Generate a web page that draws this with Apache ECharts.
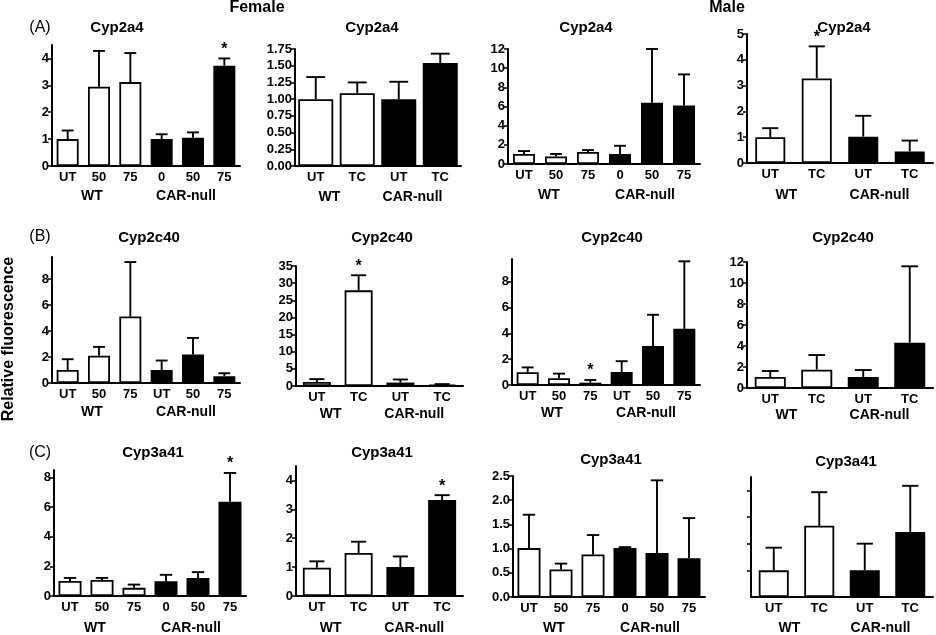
<!DOCTYPE html>
<html><head><meta charset="utf-8">
<script src="https://cdn.jsdelivr.net/npm/echarts@6/dist/echarts.min.js"></script>
<style>html,body{margin:0;padding:0;background:#fff}#c{width:936px;height:635px}</style>
</head><body><div id="c"></div>
<script>
const FONT = '"Liberation Sans", Arial, Helvetica, sans-serif';

// ---- text / categories ----
const catDoseA = ['UT','50','75','0','50','75'];
const catDoseB = ['UT','50','75','UT','50','75'];
const catTC = ['UT','TC','UT','TC'];
const groups = ['WT','CAR-null'];
const genes = ['Cyp2a4','Cyp2c40','Cyp3a41'];
const sexLabels = ['Female','Male'];
const rowLabels = ['(A)','(B)','(C)'];
const yTitle = 'Relative fluorescence';

// ---- data: mean, SEM, significance ----
const fDose2a4Mean = [1.0, 2.95, 3.12, 1.0, 1.05, 3.73];
const fDose2a4Sem  = [0.32, 1.33, 1.08, 0.18, 0.20, 0.27];
const fDose2a4Sig  = [0, 0, 0, 0, 0, 1];
const fTC2a4Mean = [1.0, 1.09, 1.0, 1.54];
const fTC2a4Sem  = [0.33, 0.16, 0.26, 0.14];
const fTC2a4Sig  = [0, 0, 0, 0];
const mDose2a4Mean = [1.05, 0.78, 1.25, 1.05, 6.4, 6.1];
const mDose2a4Sem  = [0.30, 0.27, 0.20, 0.85, 5.6, 3.25];
const mDose2a4Sig  = [0, 0, 0, 0, 0, 0];
const mTC2a4Mean = [1.0, 3.28, 1.02, 0.45];
const mTC2a4Sem  = [0.35, 1.24, 0.81, 0.42];
const mTC2a4Sig  = [0, 1, 0, 0];

const fDose2c40Mean = [1.0, 2.1, 5.12, 1.0, 2.19, 0.52];
const fDose2c40Sem  = [0.83, 0.68, 4.19, 0.73, 1.28, 0.23];
const fDose2c40Sig  = [0, 0, 0, 0, 0, 0];
const fTC2c40Mean = [1.2, 27.9, 1.0, 0.4];
const fTC2c40Sem  = [0.8, 4.4, 0.9, 0.15];
const fTC2c40Sig  = [0, 1, 0, 0];
const mDose2c40Mean = [0.98, 0.52, 0.18, 1.0, 3.02, 4.34];
const mDose2c40Sem  = [0.38, 0.36, 0.21, 0.84, 2.41, 5.22];
const mDose2c40Sig  = [0, 0, 1, 0, 0, 0];
const mTC2c40Mean = [1.05, 1.75, 1.05, 4.32];
const mTC2c40Sem  = [0.57, 1.39, 0.66, 7.27];
const mTC2c40Sig  = [0, 0, 0, 0];

const fDose3a41Mean = [1.01, 1.08, 0.55, 1.0, 1.21, 6.36];
const fDose3a41Sem  = [0.21, 0.14, 0.22, 0.43, 0.40, 1.94];
const fDose3a41Sig  = [0, 0, 0, 0, 0, 1];
const fTC3a41Mean = [0.98, 1.49, 1.0, 3.32];
const fTC3a41Sem  = [0.22, 0.39, 0.37, 0.17];
const fTC3a41Sig  = [0, 0, 0, 1];
const mDose3a41Mean = [1.01, 0.57, 0.88, 1.01, 0.91, 0.80];
const mDose3a41Sem  = [0.69, 0.12, 0.40, 0.02, 1.50, 0.83];
const mDose3a41Sig  = [0, 0, 0, 0, 0, 0];
const mTC3a41Mean = [1.0, 2.67, 1.0, 2.44];
const mTC3a41Sem  = [0.85, 1.26, 1.0, 1.73];
const mTC3a41Sig  = [0, 0, 0, 0];

// ---- y tick values ----
const ticks2a4fD = [0,1,2,3,4];
const ticks2a4fT = [0,0.25,0.5,0.75,1,1.25,1.5,1.75];
const ticks2a4mD = [0,2,4,6,8,10,12];
const ticks2a4mT = [0,1,2,3,4,5];
const ticks2c40fD = [0,2,4,6,8];
const ticks2c40fT = [0,5,10,15,20,25,30,35];
const ticks2c40mD = [0,2,4,6,8];
const ticks2c40mT = [0,2,4,6,8,10,12];
const ticks3a41fD = [0,2,4,6,8];
const ticks3a41fT = [0,1,2,3,4];
const ticks3a41mD = [0,0.5,1,1.5,2,2.5];
const ticks3a41mT = [1,2,3,4];

// ---- panels: data refs ----
const panels = [
  {gene:0, cats:catDoseA, mean:fDose2a4Mean, sem:fDose2a4Sem, sig:fDose2a4Sig, ticks:ticks2a4fD, dec:0},
  {gene:0, cats:catTC, mean:fTC2a4Mean, sem:fTC2a4Sem, sig:fTC2a4Sig, ticks:ticks2a4fT, dec:2},
  {gene:0, cats:catDoseA, mean:mDose2a4Mean, sem:mDose2a4Sem, sig:mDose2a4Sig, ticks:ticks2a4mD, dec:0},
  {gene:0, cats:catTC, mean:mTC2a4Mean, sem:mTC2a4Sem, sig:mTC2a4Sig, ticks:ticks2a4mT, dec:0},
  {gene:1, cats:catDoseB, mean:fDose2c40Mean, sem:fDose2c40Sem, sig:fDose2c40Sig, ticks:ticks2c40fD, dec:0},
  {gene:1, cats:catTC, mean:fTC2c40Mean, sem:fTC2c40Sem, sig:fTC2c40Sig, ticks:ticks2c40fT, dec:0},
  {gene:1, cats:catDoseB, mean:mDose2c40Mean, sem:mDose2c40Sem, sig:mDose2c40Sig, ticks:ticks2c40mD, dec:0},
  {gene:1, cats:catTC, mean:mTC2c40Mean, sem:mTC2c40Sem, sig:mTC2c40Sig, ticks:ticks2c40mT, dec:0},
  {gene:2, cats:catDoseA, mean:fDose3a41Mean, sem:fDose3a41Sem, sig:fDose3a41Sig, ticks:ticks3a41fD, dec:0},
  {gene:2, cats:catTC, mean:fTC3a41Mean, sem:fTC3a41Sem, sig:fTC3a41Sig, ticks:ticks3a41fT, dec:0},
  {gene:2, cats:catDoseA, mean:mDose3a41Mean, sem:mDose3a41Sem, sig:mDose3a41Sig, ticks:ticks3a41mD, dec:1},
  {gene:2, cats:catTC, mean:mTC3a41Mean, sem:mTC3a41Sem, sig:mTC3a41Sig, ticks:ticks3a41mT, dec:0, noLabels:true}
];

// ---- layout (pixels): axis left, axis right end, axis top, zero line; y max; bar width; title centre ----
const layout = [
  {l:52,  r:240, t:45,  b:166, max:4.5,  bw:22, tx:117, ty:28, go:19},
  {l:295, r:461, t:49,  b:166, max:1.75, bw:35, tx:372, ty:28, go:20},
  {l:508, r:700, t:49,  b:164, max:12,   bw:22, tx:586, ty:28, go:20},
  {l:747, r:933, t:34,  b:163, max:5,    bw:30, tx:844, ty:28, go:21},
  {l:52,  r:240, t:257, b:383, max:9.7,  bw:22, tx:149, ty:238, go:18},
  {l:296, r:463, t:266, b:386, max:35,   bw:28, tx:382, ty:238, go:17},
  {l:512, r:700, t:259, b:385, max:9.74, bw:22, tx:612, ty:238, go:17},
  {l:747, r:933, t:262, b:388, max:12,   bw:31, tx:843, ty:238, go:16},
  {l:54,  r:246, t:470, b:598, max:8.5,  bw:23, tx:153, ty:453, go:21},
  {l:296, r:463, t:466, b:598, max:4.5,  bw:28, tx:382, ty:453, go:21},
  {l:513, r:705, t:476, b:599, max:2.5,  bw:23, tx:611, ty:460, go:20},
  {l:751, r:933, t:477, b:599, max:4.5,  bw:30, tx:846, ty:462, go:20}
];

const grid = [], xAxis = [], yAxis = [], series = [], graphic = [];
const txt = (x, y, text, size, bold, extra) => Object.assign({
  type:'text', x:x, y:y,
  style:{text:text, fill:'#000', font:(bold?'bold ':'')+size+'px '+FONT, align:'center', verticalAlign:'middle'}
}, extra || {});

panels.forEach((p, i) => {
  const L = layout[i];
  grid.push({left:L.l, top:L.t, width:L.r-L.l, height:L.b-L.t, containLabel:false});
  xAxis.push({
    type:'category', gridIndex:i, data:p.cats, boundaryGap:true,
    axisLine:{show:true, onZero:false, lineStyle:{color:'#000', width:2}},
    axisTick:{show:false},
    axisLabel:{color:'#000', fontFamily:FONT, fontWeight:'bold', fontSize:13, margin:5, interval:0},
    splitLine:{show:false}
  });
  xAxis.push({
    type:'category', gridIndex:i, data:groups, position:'bottom', offset:L.go,
    axisLine:{show:false}, axisTick:{show:false},
    axisLabel:{color:'#000', fontFamily:FONT, fontWeight:'bold', fontSize:14, margin:4, interval:0, padding:[0,14,0,0]},
    splitLine:{show:false}
  });
  yAxis.push({
    type:'value', gridIndex:i, min:0, max:L.max,
    axisLine:{show:true, lineStyle:{color:'#000', width:2}},
    axisTick:{show:true, length:4, customValues:p.ticks, lineStyle:{color:'#000', width:1.5}},
    axisLabel:{show:!p.noLabels, customValues:p.ticks, color:'#000', fontFamily:FONT, fontWeight:'bold', fontSize:13, margin:3,
      formatter:(v) => Number(v).toFixed(p.dec)},
    splitLine:{show:false}
  });
  const n = p.mean.length;
  series.push({
    type:'bar', xAxisIndex:2*i, yAxisIndex:i, barWidth:L.bw, silent:true,
    data:p.mean.map((v, k) => ({value:v, itemStyle:{color: k < n/2 ? '#fff' : '#000', borderColor:'#000', borderWidth:1.8}})),
    z:2
  });
  const bw = L.bw;
  series.push({
    type:'custom', xAxisIndex:2*i, yAxisIndex:i, silent:true, z:3,
    encode:{x:0, y:1},
    data:p.mean.map((v, k) => [k, v, p.sem[k], p.sig[k]]),
    renderItem:function(params, api){
      const x = api.value(0), m = api.value(1), s = api.value(2), star = api.value(3);
      const p0 = api.coord([x, m]), p1 = api.coord([x, m + s]);
      const hw = bw * 0.27;
      const st = {stroke:'#000', lineWidth:1.9};
      const ch = [
        {type:'line', shape:{x1:p0[0], y1:p0[1], x2:p1[0], y2:p1[1]}, style:st},
        {type:'line', shape:{x1:p1[0]-hw, y1:p1[1], x2:p1[0]+hw, y2:p1[1]}, style:st}
      ];
      if (star) ch.push({type:'text', x:p1[0], y:p1[1]-1,
        style:{text:'*', fill:'#000', font:'bold 16px '+FONT, align:'center', verticalAlign:'bottom'}});
      return {type:'group', children:ch};
    }
  });
  graphic.push(txt(L.tx, L.ty, genes[p.gene], 15, true));
});

graphic.push(txt(257, 8, sexLabels[0], 16, true));
graphic.push(txt(727, 8, sexLabels[1], 16, true));
graphic.push(txt(40, 28, rowLabels[0], 16, false));
graphic.push(txt(40, 237, rowLabels[1], 16, false));
graphic.push(txt(40, 453, rowLabels[2], 16, false));
graphic.push(txt(9, 339, yTitle, 16, true, {rotation:Math.PI/2}));

const chart = echarts.init(document.getElementById('c'), null, {renderer:'canvas'});
chart.setOption({animation:false, backgroundColor:'#fff', grid, xAxis, yAxis, series, graphic});
</script></body></html>
